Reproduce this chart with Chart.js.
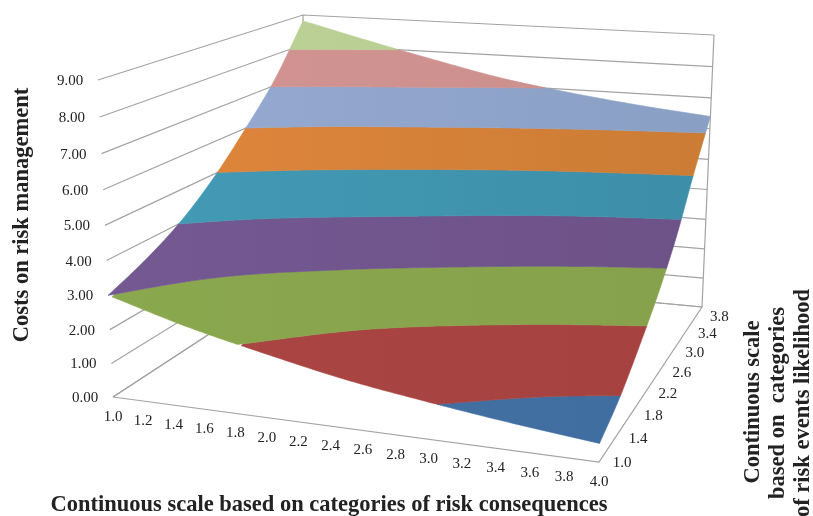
<!DOCTYPE html>
<html>
<head>
<meta charset="utf-8">
<title>Costs on risk management</title>
<script src="https://cdn.jsdelivr.net/npm/chart.js@4"></script>
<style>
    html, body { margin: 0; padding: 0; background: #fff; }
    canvas { display: block; }
</style>
</head>
<body>
<canvas id="chart" width="813" height="516"></canvas>
<script>
// Tick labels of the three axes
const xTicks = ['1.0', '1.2', '1.4', '1.6', '1.8', '2.0', '2.2', '2.4', '2.6', '2.8', '3.0', '3.2', '3.4', '3.6', '3.8', '4.0'];
const yTicks = ['1.0', '1.4', '1.8', '2.2', '2.6', '3.0', '3.4', '3.8'];
const zTicks = ['0.00', '1.00', '2.00', '3.00', '4.00', '5.00', '6.00', '7.00', '8.00', '9.00'];

// Surface values, one row per likelihood value
const gridX = [1, 1.5, 2, 2.5, 3, 3.5, 4];
const gridY = [1, 1.5, 2, 2.5, 3, 3.5, 4];
const costRows = [
    [3.00, 2.35, 1.83, 1.37, 1.03, 0.74, 0.50],
    [3.45, 2.83, 2.35, 1.88, 1.52, 1.22, 0.99],
    [4.05, 3.49, 3.05, 2.62, 2.25, 1.94, 1.71],
    [4.90, 4.37, 3.95, 3.55, 3.15, 2.81, 2.55],
    [5.98, 5.44, 5.01, 4.60, 4.21, 3.89, 3.63],
    [7.20, 6.69, 6.29, 5.90, 5.56, 5.29, 5.06],
    [8.80, 8.25, 7.73, 7.25, 6.90, 6.62, 6.40]
];

// One colour per band of 1.00, light side and shaded side
const bandColorsLeft = ['#4472a6', '#aa4542', '#8aa84e', '#745892', '#439bb6', '#e1863c', '#97abd3', '#d49492', '#bcd297'];
const bandColorsRight = ['#3f6d9f', '#a5423f', '#86a14b', '#6d5287', '#3d8ea8', '#cb7c35', '#8a9fc4', '#c98f8c', '#b5cb90'];

// View of the box: pixel corners, as [floor, top] for each vertical edge
const boxFrontLeft = [[113, 397], [98, 80]];
const boxFrontRight = [[599, 462], [609, 107]];
const boxBackRight = [[702, 307], [714, 35]];
const boxBackLeft = [[307, 270], [303, 15]];

const gridLineColor = '#a3a3a3';
const textColor = '#222';
const serif = '"Liberation Serif", "Times New Roman", serif';

// Perspective projection of a data point into the page scales
function project(x, y, z) {
    const u = (x - 1) / 3, v = (y - 1) / 3, t = z / 9;
    const corners = [
        [boxFrontLeft, 0, 0], [boxFrontRight, 1, 0], [boxBackRight, 1, 1], [boxBackLeft, 0, 1]
    ];
    let sx = 0, sy = 0, sw = 0;
    corners.forEach(([edge, cu, cv]) => {
        [0, 1].forEach(ct => {
            const weight = (cu ? u : 1 - u) * (cv ? v : 1 - v) * (ct ? t : 1 - t);
            const depth = 1 + 0.08 * (1 - cu) + 0.21 * cv - 0.06 * ct;
            sx += edge[ct][0] * depth * weight;
            sy += edge[ct][1] * depth * weight;
            sw += depth * weight;
        });
    });
    return { x: sx / sw, y: sy / sw };
}

// Smooth curve through four neighbouring table values
function spline(p0, p1, p2, p3, f) {
    return p1 + 0.5 * f * (p2 - p0 + f * (2 * p0 - 5 * p1 + 4 * p2 - p3 + f * (3 * p1 - p0 - 3 * p2 + p3)));
}

function splineAlong(values, i, f) {
    const n = values.length;
    const p0 = i > 0 ? values[i - 1] : 2 * values[0] - values[1];
    const p3 = i + 2 < n ? values[i + 2] : 2 * values[n - 1] - values[n - 2];
    return spline(p0, values[i], values[i + 1], p3, f);
}

// Cost at (x, y), smoothed between the values of the table
function costAt(x, y) {
    const i = Math.min(Math.floor((x - gridX[0]) / 0.5), gridX.length - 2);
    const j = Math.min(Math.floor((y - gridY[0]) / 0.5), gridY.length - 2);
    const fx = (x - gridX[i]) / 0.5, fy = (y - gridY[j]) / 0.5;
    const column = costRows.map(row => splineAlong(row, i, fx));
    return splineAlong(column, j, fy);
}

const sampleStep = 0.05;
const sampleCount = 60;

// Where a column of the surface reaches a given cost
function yForCost(x, cost) {
    for (let k = 0; k < sampleCount; k++) {
        const y0 = 1 + k * sampleStep, y1 = y0 + sampleStep;
        const a = costAt(x, y0), b = costAt(x, y1);
        if (cost <= a) return y0;
        if (cost <= b) return y0 + (cost - a) / (b - a) * sampleStep;
    }
    return 4;
}

// Outline of the part of the surface between two costs
function bandOutline(low, high) {
    const outline = [];
    const add = (x, y) => {
        outline.push(project(x, y, costAt(x, y)));
    };
    const crosses = x => costAt(x, 1) < high && costAt(x, 4) > low;
    const walkEdge = (x, fromY, toY) => {
        const dir = toY > fromY ? 1 : -1;
        for (let y = fromY + dir * sampleStep; dir * (toY - y) > 0; y += dir * sampleStep) add(x, y);
    };
    for (let k = 0; k <= sampleCount * 2; k++) {
        const x = 1 + k * sampleStep / 2;
        if (crosses(x)) add(x, yForCost(x, low));
    }
    walkEdge(4, yForCost(4, low), yForCost(4, high));
    for (let k = sampleCount * 2; k >= 0; k--) {
        const x = 1 + k * sampleStep / 2;
        if (crosses(x)) add(x, yForCost(x, high));
    }
    walkEdge(1, yForCost(1, high), yForCost(1, low));
    return outline;
}

function lineDataset(points) {
    return {
        type: 'scatter',
        data: points,
        showLine: true,
        borderColor: gridLineColor,
        borderWidth: 1.2,
        pointRadius: 0,
        fill: false
    };
}

const datasets = [];

// Wall lines, one per cost tick
zTicks.forEach(label => {
    const z = parseFloat(label);
    datasets.push(lineDataset([project(1, 1, z), project(1, 4, z), project(4, 4, z)]));
});
// Floor outline and upright edges of the back walls
datasets.push(lineDataset([project(1, 1, 0), project(4, 1, 0), project(4, 4, 0), project(1, 4, 0), project(1, 1, 0)]));
datasets.push(lineDataset([project(4, 4, 0), project(4, 4, 9)]));
datasets.push(lineDataset([project(1, 4, 0), project(1, 4, 9)]));

// Surface bands, filled by the plugin below
const firstBand = datasets.length;
bandColorsLeft.forEach((color, i) => {
    datasets.push({
        type: 'scatter',
        label: zTicks[i] + '-' + zTicks[i + 1],
        data: bandOutline(parseFloat(zTicks[i]), parseFloat(zTicks[i + 1])),
        showLine: false,
        pointRadius: 0
    });
});

// Fills each band outline from the points the scales placed
const surfaceBands = {
    id: 'surfaceBands',
    afterDatasetsDraw(chart) {
        const ctx = chart.ctx;
        const area = chart.chartArea;
        bandColorsLeft.forEach((color, i) => {
            const points = chart.getDatasetMeta(firstBand + i).data;
            const shade = ctx.createLinearGradient(chart.scales.x.getPixelForValue(110), 0, chart.scales.x.getPixelForValue(710), 0);
            shade.addColorStop(0, color);
            shade.addColorStop(1, bandColorsRight[i]);
            ctx.save();
            ctx.beginPath();
            ctx.rect(area.left, area.top, area.width, area.height);
            ctx.clip();
            ctx.beginPath();
            points.forEach((p, k) => k ? ctx.lineTo(p.x, p.y) : ctx.moveTo(p.x, p.y));
            ctx.closePath();
            ctx.fillStyle = shade;
            ctx.strokeStyle = shade;
            ctx.lineWidth = 0.6;
            ctx.fill();
            ctx.stroke();
            ctx.restore();
        });
    }
};

// Tick labels and axis titles
const boxLabels = {
    id: 'boxLabels',
    afterDraw(chart) {
        const ctx = chart.ctx;
        const sx = chart.scales.x, sy = chart.scales.y;
        const put = (text, at, dx, dy, font) => {
            ctx.font = font;
            ctx.fillText(text, sx.getPixelForValue(at.x) + dx, sy.getPixelForValue(at.y) + dy);
        };
        const rotated = (text, x, y, font) => {
            ctx.save();
            ctx.translate(x, y);
            ctx.rotate(-Math.PI / 2);
            ctx.font = font;
            ctx.fillText(text, 0, 0);
            ctx.restore();
        };
        ctx.save();
        ctx.fillStyle = textColor;
        ctx.textAlign = 'center';
        ctx.textBaseline = 'middle';
        const tickFont = '15px ' + serif;
        const titleFont = 'bold 22.5px ' + serif;
        xTicks.forEach(label => put(label, project(parseFloat(label), 1, 0), 0, 20, tickFont));
        yTicks.forEach(label => put(label, project(4, parseFloat(label), 0), 23, 1, tickFont));
        zTicks.forEach(label => put(label, project(1, 1, parseFloat(label)), -28, 1, tickFont));
        ctx.font = titleFont;
        ctx.fillText('Continuous scale based on categories of risk consequences', 329, 505);
        rotated('Costs on risk management', 22, 215, titleFont);
        rotated('Continuous scale', 753, 402, titleFont);
        rotated('based on  categories', 778, 403, titleFont);
        rotated('of risk events likelihood', 803, 403, titleFont);
        ctx.restore();
    }
};

new Chart(document.getElementById('chart').getContext('2d'), {
    type: 'scatter',
    data: { datasets: datasets },
    plugins: [surfaceBands, boxLabels],
    options: {
        responsive: false,
        animation: false,
        layout: { padding: 0 },
        plugins: { legend: { display: false }, tooltip: { enabled: false } },
        scales: {
            x: { type: 'linear', min: 0, max: 813, display: false },
            y: { type: 'linear', min: 0, max: 516, reverse: true, display: false }
        }
    }
});
</script>
</body>
</html>
